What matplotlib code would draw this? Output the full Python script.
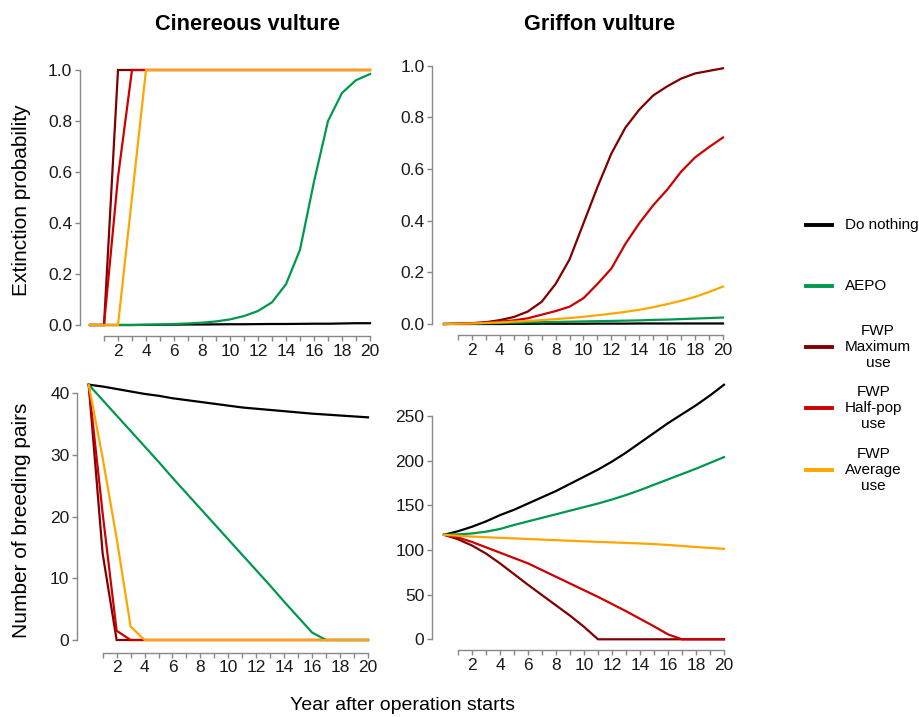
"""Vulture PVA scenarios: extinction probability and breeding pairs over 20 years."""
import matplotlib
matplotlib.use("Agg")
import matplotlib.pyplot as plt
from matplotlib.lines import Line2D

plt.rcParams["font.family"] = ["Liberation Sans", "DejaVu Sans"]

YEARS = list(range(0, 21))
SCENARIOS = ["Do nothing", "AEPO", "FWP\nMaximum\nuse", "FWP\nHalf-pop\nuse", "FWP\nAverage\nuse"]
COLORS = ["#000000", "#00994C", "#800000", "#CC0000", "#FFA500"]

# Cinereous vulture - extinction probability
cin_ext_nothing = [0, 0, 0, 0, 0.0005, 0.001, 0.0015, 0.002, 0.002, 0.0025, 0.003,
                   0.003, 0.0035, 0.004, 0.004, 0.0045, 0.005, 0.005, 0.006, 0.007, 0.007]
cin_ext_aepo = [0, 0, 0, 0, 0.001, 0.002, 0.004, 0.006, 0.009, 0.014, 0.022,
                0.035, 0.055, 0.089, 0.16, 0.295, 0.562, 0.80, 0.91, 0.96, 0.984]
cin_ext_max = [0, 0] + [1.0] * 19
cin_ext_half = [0, 0, 0.58] + [1.0] * 18
cin_ext_avg = [0, 0, 0, 0.5] + [1.0] * 17

# Griffon vulture - extinction probability
gri_ext_nothing = [0, 0, 0, 0, 0, 0.0005, 0.0005, 0.001, 0.001, 0.001, 0.001,
                   0.0015, 0.0015, 0.0015, 0.002, 0.002, 0.002, 0.002, 0.002, 0.002, 0.002]
gri_ext_aepo = [0, 0.001, 0.002, 0.003, 0.004, 0.005, 0.006, 0.007, 0.008, 0.009, 0.010,
                0.011, 0.012, 0.013, 0.014, 0.016, 0.017, 0.019, 0.021, 0.023, 0.025]
gri_ext_max = [0, 0.001, 0.003, 0.007, 0.015, 0.027, 0.048, 0.086, 0.155, 0.25, 0.39,
               0.53, 0.66, 0.76, 0.83, 0.885, 0.92, 0.95, 0.97, 0.98, 0.99]
gri_ext_half = [0, 0.001, 0.003, 0.005, 0.009, 0.014, 0.022, 0.036, 0.05, 0.067, 0.10,
                0.155, 0.215, 0.31, 0.39, 0.46, 0.52, 0.59, 0.645, 0.685, 0.722]
gri_ext_avg = [0, 0.001, 0.002, 0.004, 0.006, 0.009, 0.012, 0.015, 0.019, 0.023, 0.028,
               0.034, 0.04, 0.047, 0.055, 0.065, 0.077, 0.09, 0.105, 0.124, 0.145]

# Cinereous vulture - breeding pairs
cin_bp_nothing = [41.4, 41.1, 40.7, 40.3, 39.9, 39.6, 39.2, 38.9, 38.6, 38.3, 38.0,
                  37.7, 37.5, 37.3, 37.1, 36.9, 36.7, 36.55, 36.4, 36.25, 36.1]
cin_bp_aepo = [41.4, 38.9, 36.4, 33.9, 31.4, 28.9, 26.3, 23.8, 21.3, 18.8, 16.3,
               13.8, 11.3, 8.8, 6.2, 3.7, 1.2, 0, 0, 0, 0]
cin_bp_max = [41.4, 14.0] + [0] * 19
cin_bp_half = [41.4, 20.5, 1.5] + [0] * 18
cin_bp_avg = [41.4, 29.5, 16.5, 2.2] + [0] * 17

# Griffon vulture - breeding pairs
gri_bp_nothing = [117, 121, 126, 132, 139, 145, 152, 159, 166, 174, 182,
                  190, 199, 209, 220, 231, 242, 252, 262, 273, 285]
gri_bp_aepo = [117, 117.5, 118.5, 120.5, 123.5, 128, 132, 136, 140, 144, 148,
               152, 156.5, 161.5, 167, 173, 179, 185, 191, 197.5, 204]
gri_bp_max = [117, 112, 105, 96, 85, 73, 61, 49.5, 38, 26.5, 14] + [0] * 10
gri_bp_half = [117, 114, 109, 103, 97, 91, 85, 77.5, 70, 62.5, 55,
               47.5, 39.5, 31.5, 23, 14.5, 5.5, 0, 0, 0, 0]
gri_bp_avg = [117, 116, 115, 114.3, 113.6, 113, 112.3, 111.6, 111, 110.3, 109.7,
              109.1, 108.5, 107.9, 107.3, 106.6, 105.6, 104.5, 103.3, 102.3, 101.3]

W, H = 920, 717
fig = plt.figure(figsize=(W / 100, H / 100), dpi=100)


def box(left, right, top, bottom):
    return [left / W, 1 - bottom / H, (right - left) / W, (bottom - top) / H]


def panel(rect, series, ymax, yticks, ylabels, out_left, out_bottom):
    ax = fig.add_axes(rect)
    for vals, c in zip(series, COLORS):
        ax.plot(YEARS, vals, color=c, lw=1.6, clip_on=False, solid_joinstyle="miter")
    ax.set_xlim(0, 20); ax.set_ylim(0, ymax)
    for s in ("top", "right"):
        ax.spines[s].set_visible(False)
    ax.spines["left"].set_position(("outward", out_left))
    ax.spines["bottom"].set_position(("outward", out_bottom))
    ax.spines["left"].set_bounds(0, yticks[-1])
    ax.spines["bottom"].set_bounds(1, 20)
    for s in ("left", "bottom"):
        ax.spines[s].set_color("#888888"); ax.spines[s].set_linewidth(1.0)
    ax.set_xticks(range(1, 21))
    ax.set_xticklabels([str(i) if i % 2 == 0 else "" for i in range(1, 21)])
    ax.set_yticks(yticks); ax.set_yticklabels(ylabels)
    ax.tick_params(axis="both", colors="#888888", labelcolor="#1a1a1a",
                   labelsize=12.5, length=3.5, width=1.0, pad=2)
    ax.patch.set_alpha(0)
    return ax


ext_ticks = [0, 0.2, 0.4, 0.6, 0.8, 1.0]
ext_labels = ["0.0", "0.2", "0.4", "0.6", "0.8", "1.0"]

panel(box(90, 370, 70, 325),
      [cin_ext_nothing, cin_ext_aepo, cin_ext_max, cin_ext_half, cin_ext_avg],
      1.0, ext_ticks, ext_labels, 7.2, 7.9)
panel(box(444, 723, 65.7, 324),
      [gri_ext_nothing, gri_ext_aepo, gri_ext_max, gri_ext_half, gri_ext_avg],
      1.0, ext_ticks, ext_labels, 8.6, 7.9)
panel(box(88.7, 368, 393.3, 640),
      [cin_bp_nothing, cin_bp_aepo, cin_bp_max, cin_bp_half, cin_bp_avg],
      40, [0, 10, 20, 30, 40], ["0", "10", "20", "30", "40"], 8.4, 9.1)
panel(box(444, 724, 416, 639.3),
      [gri_bp_nothing, gri_bp_aepo, gri_bp_max, gri_bp_half, gri_bp_avg],
      250, [0, 50, 100, 150, 200, 250], ["0", "50", "100", "150", "200", "250"], 8.6, 7.7)

# titles and axis labels
fig.text(248 / W, 1 - 25 / H, "Cinereous vulture", ha="center", va="center",
         fontsize=15.7, fontweight="bold")
fig.text(600 / W, 1 - 25 / H, "Griffon vulture", ha="center", va="center",
         fontsize=15.7, fontweight="bold")
fig.text(22 / W, 1 - 200 / H, "Extinction probability", rotation=90,
         ha="center", va="center", fontsize=15)
fig.text(22 / W, 1 - 520 / H, "Number of breeding pairs", rotation=90,
         ha="center", va="center", fontsize=15)
fig.text(403 / W, 1 - 706 / H, "Year after operation starts",
         ha="center", va="center", fontsize=14)

# legend on the right
leg_y = [225, 286, 347, 408, 470]
for lab, c, y in zip(SCENARIOS, COLORS, leg_y):
    fig.add_artist(Line2D([806 / W, 832 / W], [1 - y / H, 1 - y / H], color=c, lw=2.8))
    fig.text(845 / W, 1 - y / H, lab, ha="left", va="center", multialignment="center",
             fontsize=11, linespacing=1.15)

fig.savefig("out.png", dpi=100)
